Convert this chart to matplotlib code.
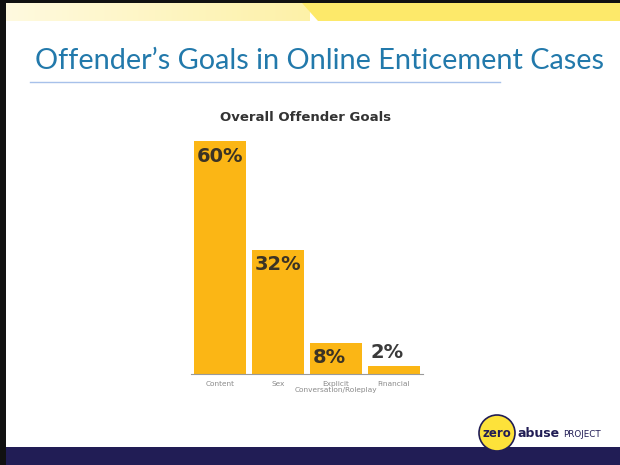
import matplotlib.pyplot as plt
import numpy as np
from matplotlib.patches import Rectangle, Polygon, Circle

# data
categories = ["Content", "Sex", "Explicit\nConversation/Roleplay", "Financial"]
values = [60, 32, 8, 2]
value_labels = ["60%", "32%", "8%", "2%"]

W, H = 620, 465
fig = plt.figure(figsize=(W / 100, H / 100), dpi=100)
fig.patch.set_facecolor("white")

# background layer in pixel coordinates
bg = fig.add_axes([0, 0, 1, 1])
bg.set_xlim(0, W)
bg.set_ylim(H, 0)
bg.axis("off")

# top yellow band (gradient on the left, solid on the right)
grad = np.linspace(0, 1, 300).reshape(1, -1)
cmap = plt.matplotlib.colors.LinearSegmentedColormap.from_list(
    "band", ["#fffae0", "#fdf1a8"])
bg.imshow(grad, extent=(0, 310, 21, 3), cmap=cmap, aspect="auto", zorder=1)
bg.add_patch(Polygon([(302, 3), (W, 3), (W, 21), (318, 21)],
                     closed=True, color="#fde96a", lw=0, zorder=2))
# frame bits
bg.add_patch(Rectangle((0, 0), W, 3, color="#111111", lw=0, zorder=3))
bg.add_patch(Rectangle((0, 0), 6, H, color="#111111", lw=0, zorder=3))
# bottom navy band
bg.add_patch(Rectangle((6, 447), W, 18, color="#211d55", lw=0, zorder=3))

# slide title and rule
bg.text(35, 61, "Offender’s Goals in Online Enticement Cases", fontsize=20.8,
        family="Lato", color="#2279ab", va="center", ha="left")
bg.plot([30, 500], [82, 82], color="#a7c1ea", lw=1)

# logo
bg.add_patch(Circle((497, 433), 18, facecolor="#fde23a", edgecolor="#211d55",
                    lw=1.2, zorder=4))
bg.text(497, 433, "zero", fontsize=8.5, weight="bold", color="#211d55",
        ha="center", va="center", zorder=5)
bg.text(517, 433, "abuse", fontsize=9, weight="bold", color="#211d55",
        ha="left", va="center", zorder=5)
bg.text(563, 434, "PROJECT", fontsize=6.3, color="#211d55",
        ha="left", va="center", zorder=5)

# chart title
bg.text(306, 117, "Overall Offender Goals", fontsize=9.5, weight="bold",
        color="#333333", ha="center", va="center")

# bar chart
ax = fig.add_axes([191 / W, (H - 374) / H, 232 / W, 233 / H])
ax.patch.set_alpha(0)
x = np.arange(len(values))
ax.bar(x, values, width=0.9, color="#fbb615", zorder=2)
ax.set_xlim(-0.5, len(values) - 0.5)
ax.set_ylim(0, 60)
for s in ["top", "right", "left"]:
    ax.spines[s].set_visible(False)
ax.spines["bottom"].set_color("#9a9a9a")
ax.spines["bottom"].set_linewidth(0.8)
ax.set_yticks([])
ax.set_xticks(x)
ax.set_xticklabels(categories, fontsize=5.3, color="#8a8a8a", linespacing=1.0)
ax.tick_params(axis="x", length=0, pad=5)

for xi, v, lab in zip(x, values, value_labels):
    left = xi - 0.45
    if v > 6:
        ax.annotate(lab, (left, v), xytext=(2, -4), textcoords="offset points",
                    ha="left", va="top", fontsize=14, weight="bold",
                    color="#3b3325", zorder=3)
    else:
        ax.annotate(lab, (left, v), xytext=(2, 3), textcoords="offset points",
                    ha="left", va="bottom", fontsize=14, weight="bold",
                    color="#3a3a3a", zorder=3)

fig.savefig("out.png", dpi=100)
